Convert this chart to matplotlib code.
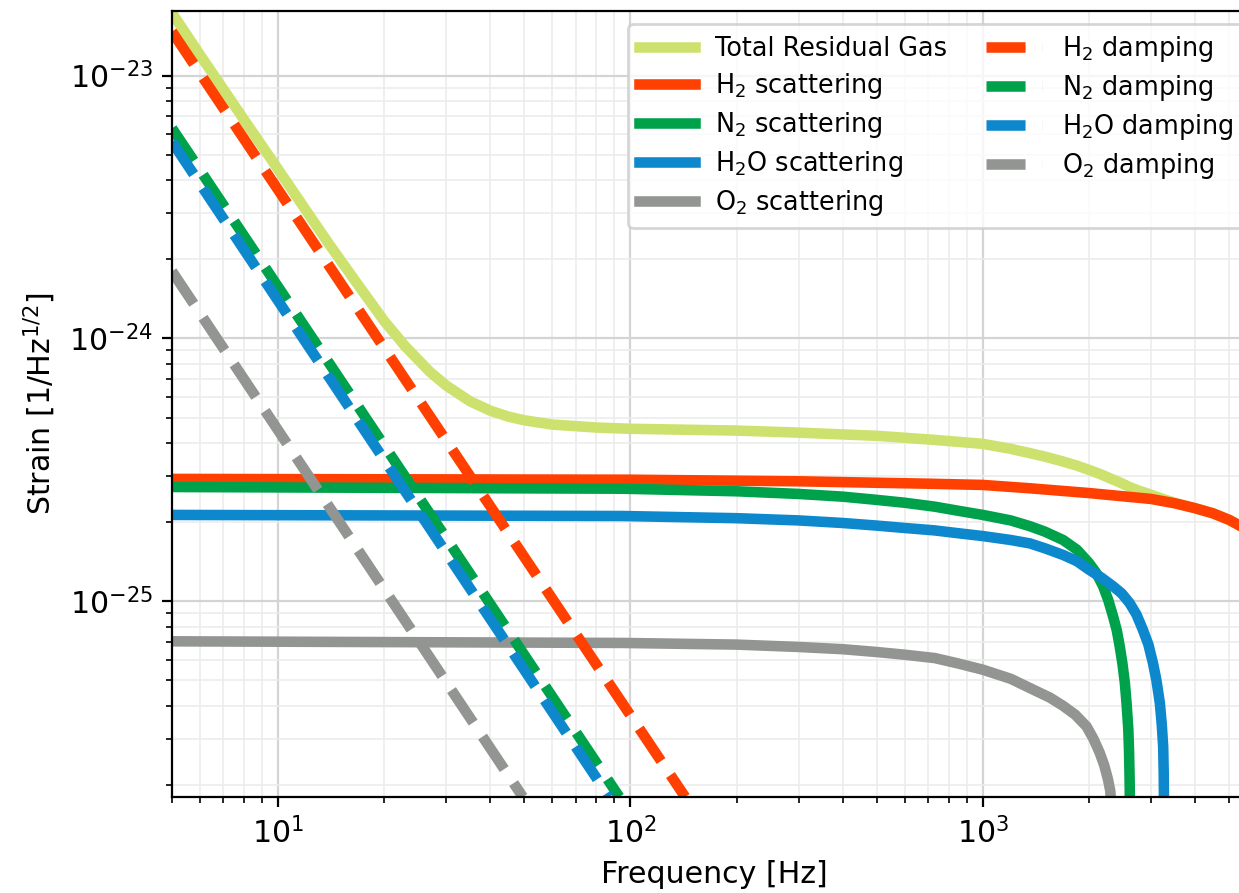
import numpy as np
import matplotlib
matplotlib.use("Agg")
import matplotlib.pyplot as plt

# values (frequency in Hz, strain in 1/sqrt(Hz))
f_total = [5, 6, 7, 8, 10, 12, 14, 17, 20, 23, 27, 30, 35, 40, 45, 50, 60, 80,
           100, 200, 300, 500, 730, 1000, 1200, 1360, 1500, 1690, 1850, 2000,
           2150, 2290, 2450, 2610, 2760, 2910, 3080, 3250, 3500, 4000, 4500,
           5000, 5322, 5700, 6000]
h_total = [1.73e-23, 1.2e-23, 8.85e-24, 6.8e-24, 4.4e-24, 3.07e-24, 2.27e-24,
           1.575e-24, 1.165e-24, 9.3e-25, 7.45e-25, 6.62e-25, 5.77e-25, 5.31e-25,
           5.04e-25, 4.88e-25, 4.70e-25, 4.58e-25, 4.53e-25, 4.46e-25, 4.38e-25,
           4.26e-25, 4.11e-25, 3.97e-25, 3.80e-25, 3.66e-25, 3.55e-25, 3.40e-25,
           3.28e-25, 3.16e-25, 3.05e-25, 2.94e-25, 2.83e-25, 2.72e-25, 2.64e-25,
           2.58e-25, 2.51e-25, 2.45e-25, 2.37e-25, 2.26e-25, 2.16e-25, 2.04e-25,
           1.95e-25, 1.85e-25, 1.75e-25]

f_h2 = [5, 100, 300, 700, 1000, 1360, 2000, 3000, 3500, 4000, 4500, 5000, 5322,
        5700, 6000]
h_h2 = [2.92e-25, 2.90e-25, 2.86e-25, 2.80e-25, 2.77e-25, 2.69e-25, 2.58e-25,
        2.45e-25, 2.36e-25, 2.26e-25, 2.16e-25, 2.04e-25, 1.95e-25, 1.85e-25,
        1.75e-25]

f_n2 = [5, 95, 200, 300, 400, 500, 600, 730, 850, 1000, 1200, 1360, 1500, 1690,
        1850, 2000, 2100, 2195, 2270, 2343, 2400, 2447, 2490, 2530, 2560, 2588,
        2600, 2610, 2618, 2630]
h_n2 = [2.72e-25, 2.68e-25, 2.62e-25, 2.56e-25, 2.50e-25, 2.43e-25, 2.37e-25,
        2.29e-25, 2.21e-25, 2.13e-25, 2.03e-25, 1.93e-25, 1.84e-25, 1.71e-25,
        1.57e-25, 1.40e-25, 1.28e-25, 1.14e-25, 1.01e-25, 8.75e-26, 7.75e-26,
        6.73e-26, 5.8e-26, 4.89e-26, 4.05e-26, 3.25e-26, 2.7e-26, 2.1e-26,
        1.5e-26, 1e-26]

f_h2o = [5, 95, 200, 300, 400, 500, 600, 730, 850, 1000, 1200, 1360, 1500,
         1690, 1850, 2000, 2170, 2343, 2480, 2610, 2730, 2846, 2950, 3040, 3110,
         3180, 3220, 3250, 3262, 3270, 3280]
h_h2o = [2.13e-25, 2.11e-25, 2.07e-25, 2.03e-25, 1.985e-25, 1.94e-25, 1.90e-25,
         1.86e-25, 1.815e-25, 1.77e-25, 1.71e-25, 1.66e-25, 1.59e-25, 1.50e-25,
         1.42e-25, 1.32e-25, 1.23e-25, 1.14e-25, 1.07e-25, 9.84e-26, 8.9e-26,
         7.79e-26, 6.85e-26, 5.82e-26, 5.0e-26, 4.10e-26, 3.4e-26, 2.80e-26,
         2.2e-26, 1.5e-26, 1e-26]

f_o2 = [5, 95, 200, 300, 400, 500, 600, 730, 850, 1000, 1200, 1390, 1550, 1690,
        1830, 1970, 2060, 2147, 2210, 2266, 2300, 2330, 2345]
h_o2 = [7.04e-26, 6.94e-26, 6.84e-26, 6.70e-26, 6.57e-26, 6.41e-26, 6.26e-26,
        6.08e-26, 5.80e-26, 5.49e-26, 5.07e-26, 4.61e-26, 4.3e-26, 4.0e-26,
        3.7e-26, 3.34e-26, 3.0e-26, 2.65e-26, 2.38e-26, 2.10e-26, 1.9e-26,
        1.5e-26, 1e-26]

# damping terms are straight lines on log-log: start and end points
f_h2_d = [5, 143]
h_h2_d = [1.47e-23, 1.8e-26]
f_n2_d = [5, 93]
h_n2_d = [6.3e-24, 1.8e-26]
f_h2o_d = [5, 87]
h_h2o_d = [5.6e-24, 1.8e-26]
f_o2_d = [5, 49.5]
h_o2_d = [1.8e-24, 1.8e-26]

c_total = '#cde26e'
c_h2 = '#ff4000'
c_n2 = '#00a14b'
c_h2o = '#0d88cc'
c_o2 = '#939592'

lw = 3.8

fig = plt.figure(figsize=(1239/200, 893/200), dpi=200)
ax = fig.add_axes([172/1239, 1 - 797/893, (1257 - 172)/1239, (797 - 11)/893])

ax.loglog(f_total, h_total, color=c_total, lw=lw, label='Total Residual Gas')
ax.loglog(f_h2, h_h2, color=c_h2, lw=lw, label='H$_2$ scattering')
ax.loglog(f_n2, h_n2, color=c_n2, lw=lw, label='N$_2$ scattering')
ax.loglog(f_h2o, h_h2o, color=c_h2o, lw=lw, label='H$_2$O scattering')
ax.loglog(f_o2, h_o2, color=c_o2, lw=lw, label='O$_2$ scattering')
ax.loglog(f_h2_d, h_h2_d, '--', color=c_h2, lw=lw, label='H$_2$ damping')
ax.loglog(f_n2_d, h_n2_d, '--', color=c_n2, lw=lw, label='N$_2$ damping')
ax.loglog(f_h2o_d, h_h2o_d, '--', color=c_h2o, lw=lw, label='H$_2$O damping')
ax.loglog(f_o2_d, h_o2_d, '--', color=c_o2, lw=lw, label='O$_2$ damping')

ax.set_xlim(5, 6000)
ax.set_ylim(1.8e-26, 1.76e-23)

ax.grid(which='major', color='#d4d4d4', lw=0.8)
ax.grid(which='minor', color='#ececec', lw=0.6)
ax.set_axisbelow(True)

ax.tick_params(labelsize=10.8)
ax.set_xlabel('Frequency [Hz]', fontsize=10.8)
ax.set_ylabel('Strain [1/Hz$^{1/2}$]', fontsize=10.8)

ax.legend(ncol=2, loc='upper right', fontsize=9.2, handlelength=2.2,
          labelspacing=0.35, columnspacing=1.5)

fig.savefig('out.png', dpi=200)
